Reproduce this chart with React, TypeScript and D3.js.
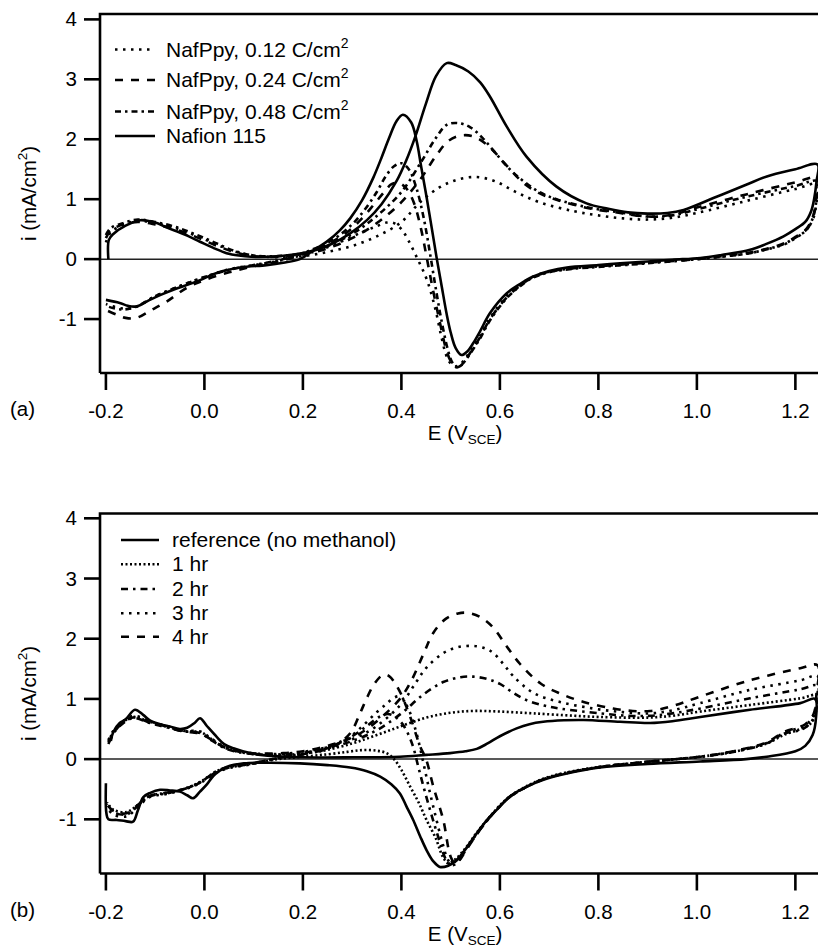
import React from "react";
import * as d3 from "d3";

type P = [number, number];

// ---------- Panel (a) ----------
const nafion115: P[] = [
  [-0.195,0.0],[-0.194,0.32],[-0.185,0.42],[-0.16,0.56],[-0.13,0.65],[-0.10,0.61],[-0.077,0.53],[-0.04,0.41],[-0.009,0.29],[0.02,0.18],[0.045,0.10],[0.07,0.06],[0.095,0.04],[0.13,0.04],[0.16,0.055],[0.2,0.1],[0.228,0.155],[0.26,0.26],[0.296,0.43],[0.33,0.65],[0.36,0.92],[0.39,1.3],[0.41,1.65],[0.428,2.04],[0.45,2.6],[0.47,3.05],[0.492,3.27],[0.51,3.24],[0.536,3.13],[0.56,2.95],[0.58,2.71],[0.614,2.21],[0.654,1.71],[0.715,1.21],[0.776,0.93],[0.82,0.84],[0.86,0.78],[0.9,0.76],[0.94,0.77],[0.973,0.82],[1.04,1.04],[1.1,1.24],[1.142,1.38],[1.2,1.5],[1.245,1.58],
  [1.243,1.3],[1.238,1.0],[1.232,0.8],[1.22,0.62],[1.2,0.5],[1.176,0.38],[1.14,0.25],[1.108,0.155],[1.05,0.07],[1.007,0.02],[0.95,-0.01],[0.9,-0.04],[0.844,-0.07],[0.8,-0.1],[0.736,-0.14],[0.7,-0.2],[0.668,-0.29],[0.64,-0.42],[0.614,-0.57],[0.58,-0.9],[0.56,-1.2],[0.546,-1.4],[0.535,-1.53],[0.522,-1.6],[0.51,-1.48],[0.5,-1.22],[0.492,-0.92],[0.482,-0.46],[0.472,0.0],[0.462,0.5],[0.451,1.04],[0.44,1.55],[0.431,1.97],[0.42,2.28],[0.403,2.41],[0.39,2.3],[0.375,2.02],[0.36,1.7],[0.343,1.36],[0.32,0.98],[0.296,0.68],[0.275,0.48],[0.25,0.3],[0.22,0.14],[0.194,0.0],[0.16,-0.06],[0.126,-0.1],[0.072,-0.14],[0.025,-0.23],[-0.009,-0.35],[-0.035,-0.43],[-0.063,-0.51],[-0.09,-0.6],[-0.111,-0.68],[-0.138,-0.79],[-0.155,-0.78],[-0.172,-0.73],[-0.2,-0.68],
];

const nafPpy012: P[] = [
  [-0.2,0.28],[-0.19,0.45],[-0.165,0.57],[-0.135,0.64],[-0.1,0.6],[-0.06,0.52],[-0.02,0.4],[0.02,0.26],[0.06,0.13],[0.1,0.06],[0.15,0.03],[0.2,0.05],[0.25,0.12],[0.3,0.22],[0.35,0.38],[0.4,0.62],[0.438,0.95],[0.478,1.2],[0.515,1.33],[0.553,1.37],[0.59,1.3],[0.63,1.13],[0.68,0.95],[0.75,0.8],[0.8,0.73],[0.85,0.68],[0.9,0.66],[0.95,0.69],[1.0,0.77],[1.1,0.97],[1.2,1.17],[1.245,1.25],
  [1.243,0.95],[1.235,0.65],[1.22,0.47],[1.2,0.35],[1.176,0.24],[1.14,0.16],[1.108,0.1],[1.05,0.04],[1.0,0.0],[0.9,-0.06],[0.8,-0.12],[0.75,-0.15],[0.7,-0.21],[0.665,-0.3],[0.64,-0.43],[0.614,-0.62],[0.58,-0.98],[0.56,-1.28],[0.546,-1.45],[0.532,-1.63],[0.52,-1.75],[0.508,-1.79],[0.498,-1.72],[0.49,-1.58],[0.48,-1.25],[0.468,-0.8],[0.452,-0.35],[0.433,0.0],[0.415,0.3],[0.4,0.5],[0.385,0.6],[0.37,0.61],[0.35,0.55],[0.32,0.45],[0.28,0.3],[0.24,0.17],[0.2,0.07],[0.15,-0.03],[0.1,-0.1],[0.05,-0.17],[0.0,-0.3],[-0.05,-0.45],[-0.1,-0.62],[-0.14,-0.8],[-0.17,-0.82],[-0.2,-0.75],
];

const nafPpy024: P[] = [
  [-0.2,0.35],[-0.19,0.48],[-0.165,0.58],[-0.135,0.62],[-0.1,0.58],[-0.06,0.5],[-0.02,0.38],[0.02,0.24],[0.06,0.12],[0.1,0.05],[0.15,0.04],[0.2,0.08],[0.25,0.18],[0.3,0.35],[0.35,0.6],[0.4,0.95],[0.44,1.35],[0.47,1.72],[0.495,1.97],[0.519,2.06],[0.545,2.05],[0.575,1.9],[0.615,1.55],[0.648,1.27],[0.68,1.1],[0.715,0.99],[0.78,0.85],[0.844,0.77],[0.9,0.71],[0.95,0.74],[1.0,0.86],[1.1,1.08],[1.2,1.28],[1.245,1.36],
  [1.243,1.05],[1.236,0.72],[1.222,0.5],[1.2,0.37],[1.176,0.26],[1.14,0.17],[1.108,0.11],[1.05,0.05],[1.0,0.0],[0.9,-0.06],[0.8,-0.12],[0.75,-0.15],[0.7,-0.21],[0.665,-0.31],[0.64,-0.45],[0.614,-0.64],[0.58,-1.0],[0.56,-1.3],[0.546,-1.48],[0.532,-1.66],[0.52,-1.78],[0.51,-1.8],[0.5,-1.7],[0.49,-1.48],[0.478,-1.05],[0.465,-0.55],[0.452,0.0],[0.44,0.5],[0.425,0.95],[0.41,1.18],[0.395,1.27],[0.38,1.25],[0.365,1.12],[0.345,0.92],[0.32,0.68],[0.29,0.45],[0.25,0.25],[0.2,0.08],[0.15,-0.04],[0.1,-0.12],[0.05,-0.22],[0.0,-0.35],[-0.036,-0.48],[-0.077,-0.71],[-0.11,-0.86],[-0.138,-0.98],[-0.16,-0.98],[-0.18,-0.92],[-0.2,-0.85],
];

const nafPpy048: P[] = [
  [-0.2,0.4],[-0.19,0.52],[-0.165,0.6],[-0.135,0.66],[-0.1,0.62],[-0.06,0.54],[-0.02,0.42],[0.02,0.28],[0.06,0.14],[0.1,0.06],[0.15,0.05],[0.2,0.1],[0.25,0.22],[0.3,0.42],[0.35,0.72],[0.4,1.12],[0.44,1.62],[0.47,2.02],[0.492,2.24],[0.515,2.27],[0.54,2.2],[0.565,2.02],[0.59,1.78],[0.62,1.5],[0.648,1.3],[0.68,1.12],[0.715,1.0],[0.78,0.86],[0.844,0.78],[0.9,0.71],[0.95,0.73],[1.0,0.83],[1.1,1.04],[1.2,1.22],[1.245,1.3],
  [1.243,1.0],[1.236,0.7],[1.222,0.48],[1.2,0.36],[1.176,0.25],[1.14,0.16],[1.108,0.1],[1.05,0.04],[1.0,0.0],[0.9,-0.07],[0.8,-0.13],[0.75,-0.16],[0.7,-0.22],[0.665,-0.32],[0.64,-0.46],[0.614,-0.65],[0.58,-1.02],[0.56,-1.32],[0.546,-1.5],[0.532,-1.67],[0.52,-1.78],[0.512,-1.8],[0.503,-1.72],[0.494,-1.5],[0.482,-1.05],[0.47,-0.5],[0.458,0.1],[0.445,0.7],[0.43,1.2],[0.415,1.5],[0.4,1.6],[0.385,1.55],[0.368,1.38],[0.35,1.12],[0.325,0.82],[0.3,0.58],[0.26,0.32],[0.2,0.1],[0.15,-0.02],[0.1,-0.1],[0.05,-0.18],[0.0,-0.3],[-0.05,-0.45],[-0.1,-0.62],[-0.14,-0.8],[-0.17,-0.84],[-0.2,-0.78],
];

// ---------- Panel (b) ----------
const reference: P[] = [
  [-0.19,0.3],[-0.185,0.45],[-0.172,0.6],[-0.16,0.66],[-0.141,0.82],[-0.125,0.74],[-0.11,0.64],[-0.09,0.58],[-0.07,0.54],[-0.05,0.5],[-0.035,0.52],[-0.02,0.6],[-0.009,0.68],[0.005,0.55],[0.025,0.37],[0.04,0.25],[0.059,0.18],[0.093,0.1],[0.14,0.05],[0.2,0.03],[0.3,0.03],[0.397,0.04],[0.45,0.07],[0.499,0.1],[0.53,0.13],[0.553,0.17],[0.575,0.26],[0.6,0.38],[0.634,0.51],[0.66,0.58],[0.688,0.62],[0.73,0.645],[0.77,0.65],[0.844,0.62],[0.905,0.6],[0.95,0.63],[1.007,0.7],[1.108,0.82],[1.21,0.93],[1.24,1.0],
  [1.242,0.7],[1.235,0.4],[1.22,0.22],[1.2,0.13],[1.142,0.04],[1.1,0.0],[1.007,-0.04],[0.9,-0.08],[0.803,-0.14],[0.736,-0.24],[0.69,-0.34],[0.654,-0.46],[0.62,-0.62],[0.6,-0.79],[0.575,-1.0],[0.553,-1.23],[0.53,-1.5],[0.512,-1.68],[0.495,-1.77],[0.478,-1.79],[0.465,-1.7],[0.451,-1.51],[0.438,-1.28],[0.424,-1.01],[0.41,-0.78],[0.397,-0.57],[0.38,-0.42],[0.357,-0.29],[0.33,-0.2],[0.296,-0.14],[0.25,-0.1],[0.194,-0.07],[0.13,-0.06],[0.08,-0.07],[0.045,-0.13],[0.03,-0.2],[0.018,-0.28],[0.005,-0.42],[-0.009,-0.54],[-0.023,-0.65],[-0.035,-0.6],[-0.05,-0.54],[-0.07,-0.52],[-0.09,-0.51],[-0.11,-0.56],[-0.124,-0.63],[-0.135,-0.85],[-0.145,-1.04],[-0.16,-1.03],[-0.178,-1.01],[-0.195,-1.0],[-0.199,-0.9],[-0.2,-0.4],
];

const hr1: P[] = [
  [-0.195,0.3],[-0.185,0.45],[-0.172,0.57],[-0.145,0.7],[-0.111,0.62],[-0.077,0.54],[-0.043,0.47],[-0.02,0.46],[-0.005,0.44],[0.011,0.35],[0.045,0.18],[0.093,0.09],[0.16,0.07],[0.228,0.12],[0.3,0.26],[0.35,0.4],[0.397,0.54],[0.451,0.69],[0.5,0.77],[0.546,0.8],[0.6,0.79],[0.668,0.76],[0.75,0.72],[0.803,0.7],[0.9,0.69],[0.95,0.72],[1.007,0.79],[1.108,0.9],[1.21,1.01],[1.245,1.06],
  [1.242,0.8],[1.232,0.6],[1.21,0.5],[1.176,0.4],[1.142,0.26],[1.074,0.12],[1.007,0.04],[0.905,-0.04],[0.803,-0.13],[0.736,-0.22],[0.69,-0.32],[0.654,-0.45],[0.62,-0.62],[0.6,-0.77],[0.575,-1.0],[0.553,-1.22],[0.53,-1.48],[0.51,-1.66],[0.495,-1.73],[0.484,-1.62],[0.47,-1.32],[0.451,-1.01],[0.435,-0.72],[0.418,-0.46],[0.4,-0.18],[0.385,0.0],[0.37,0.1],[0.35,0.14],[0.32,0.15],[0.29,0.12],[0.25,0.08],[0.2,0.04],[0.15,0.0],[0.093,-0.08],[0.05,-0.14],[0.025,-0.2],[-0.009,-0.38],[-0.043,-0.5],[-0.077,-0.56],[-0.111,-0.61],[-0.138,-0.78],[-0.158,-0.88],[-0.185,-0.84],[-0.198,-0.72],
];

const hr2: P[] = [
  [-0.195,0.28],[-0.185,0.42],[-0.172,0.55],[-0.145,0.68],[-0.111,0.6],[-0.077,0.53],[-0.043,0.46],[-0.02,0.45],[-0.005,0.42],[0.011,0.33],[0.045,0.17],[0.093,0.09],[0.16,0.08],[0.228,0.14],[0.3,0.3],[0.35,0.48],[0.4,0.76],[0.444,1.07],[0.485,1.28],[0.52,1.36],[0.546,1.37],[0.575,1.33],[0.6,1.25],[0.627,1.1],[0.654,0.98],[0.69,0.89],[0.722,0.84],[0.803,0.76],[0.86,0.72],[0.905,0.72],[0.95,0.76],[1.007,0.84],[1.108,1.01],[1.21,1.16],[1.245,1.22],
  [1.243,0.9],[1.235,0.65],[1.215,0.5],[1.176,0.42],[1.142,0.26],[1.074,0.12],[1.007,0.04],[0.905,-0.04],[0.803,-0.13],[0.736,-0.23],[0.69,-0.33],[0.654,-0.46],[0.62,-0.63],[0.6,-0.78],[0.575,-1.01],[0.553,-1.24],[0.53,-1.5],[0.512,-1.68],[0.5,-1.75],[0.49,-1.66],[0.477,-1.35],[0.462,-0.95],[0.448,-0.55],[0.435,-0.15],[0.422,0.25],[0.405,0.55],[0.388,0.7],[0.372,0.75],[0.355,0.7],[0.33,0.55],[0.3,0.38],[0.26,0.22],[0.2,0.08],[0.15,0.02],[0.093,-0.08],[0.05,-0.13],[0.025,-0.2],[-0.009,-0.39],[-0.043,-0.5],[-0.077,-0.57],[-0.111,-0.62],[-0.138,-0.8],[-0.158,-0.92],[-0.185,-0.88],[-0.198,-0.75],
];

const hr3: P[] = [
  [-0.195,0.32],[-0.185,0.47],[-0.172,0.58],[-0.145,0.72],[-0.111,0.63],[-0.077,0.55],[-0.043,0.47],[-0.02,0.47],[-0.005,0.45],[0.011,0.36],[0.045,0.19],[0.093,0.1],[0.16,0.09],[0.228,0.16],[0.3,0.33],[0.35,0.55],[0.4,0.92],[0.43,1.28],[0.451,1.52],[0.485,1.76],[0.515,1.86],[0.546,1.88],[0.57,1.84],[0.587,1.76],[0.607,1.58],[0.627,1.38],[0.668,1.1],[0.722,0.95],[0.79,0.84],[0.85,0.78],[0.905,0.76],[0.95,0.81],[1.007,0.93],[1.108,1.15],[1.21,1.31],[1.245,1.38],
  [1.243,1.0],[1.236,0.7],[1.218,0.56],[1.176,0.43],[1.142,0.27],[1.074,0.13],[1.007,0.04],[0.905,-0.04],[0.803,-0.13],[0.736,-0.23],[0.69,-0.33],[0.654,-0.46],[0.62,-0.63],[0.6,-0.78],[0.575,-1.01],[0.553,-1.25],[0.53,-1.52],[0.515,-1.7],[0.505,-1.76],[0.495,-1.68],[0.482,-1.35],[0.468,-0.9],[0.455,-0.45],[0.443,0.0],[0.43,0.45],[0.415,0.82],[0.398,1.04],[0.385,1.02],[0.37,0.92],[0.35,0.78],[0.325,0.58],[0.3,0.4],[0.26,0.23],[0.2,0.09],[0.15,0.02],[0.093,-0.09],[0.05,-0.15],[0.025,-0.22],[-0.009,-0.4],[-0.043,-0.51],[-0.077,-0.58],[-0.111,-0.63],[-0.138,-0.82],[-0.158,-0.95],[-0.185,-0.92],[-0.198,-0.8],
];

const hr4: P[] = [
  [-0.195,0.25],[-0.185,0.42],[-0.172,0.56],[-0.145,0.69],[-0.111,0.61],[-0.077,0.54],[-0.043,0.46],[-0.02,0.44],[-0.005,0.42],[0.011,0.34],[0.045,0.18],[0.093,0.1],[0.16,0.1],[0.2,0.13],[0.25,0.22],[0.3,0.36],[0.33,0.5],[0.363,0.72],[0.397,1.0],[0.42,1.3],[0.445,1.75],[0.465,2.1],[0.49,2.33],[0.515,2.42],[0.535,2.43],[0.56,2.36],[0.587,2.18],[0.614,1.87],[0.641,1.58],[0.682,1.26],[0.722,1.09],[0.77,0.95],[0.83,0.84],[0.87,0.8],[0.905,0.8],[0.95,0.88],[1.007,1.04],[1.108,1.31],[1.21,1.51],[1.245,1.56],
  [1.243,1.1],[1.237,0.75],[1.22,0.58],[1.176,0.45],[1.142,0.28],[1.074,0.13],[1.007,0.04],[0.905,-0.04],[0.803,-0.13],[0.736,-0.23],[0.69,-0.33],[0.654,-0.46],[0.62,-0.63],[0.6,-0.78],[0.575,-1.01],[0.553,-1.25],[0.53,-1.53],[0.518,-1.68],[0.51,-1.74],[0.5,-1.62],[0.485,-1.01],[0.465,-0.46],[0.45,0.0],[0.438,0.21],[0.418,0.7],[0.395,1.15],[0.375,1.38],[0.363,1.4],[0.345,1.25],[0.329,1.0],[0.316,0.76],[0.296,0.43],[0.262,0.21],[0.2,0.08],[0.15,0.02],[0.093,-0.08],[0.05,-0.14],[0.025,-0.21],[-0.009,-0.39],[-0.043,-0.5],[-0.077,-0.56],[-0.111,-0.61],[-0.138,-0.78],[-0.158,-0.9],[-0.185,-0.86],[-0.2,-0.73],
];

const xTicks = [-0.2, 0, 0.2, 0.4, 0.6, 0.8, 1.0, 1.2];
const xTickLabels = ["-0.2", "0.0", "0.2", "0.4", "0.6", "0.8", "1.0", "1.2"];
const yTicks = [-1, 0, 1, 2, 3, 4];
const yTickLabels = ["-1", "0", "1", "2", "3", "4"];

const legendA = ["NafPpy, 0.12 C/cm", "NafPpy, 0.24 C/cm", "NafPpy, 0.48 C/cm", "Nafion 115"];
const legendB = ["reference (no methanol)", "1 hr", "2 hr", "3 hr", "4 hr"];

const FONT = "'Liberation Sans', Arial, sans-serif";
const DOT = "2.5 5.5";
const DASH = "8 8";
const DASHDOT = "6 4 2.5 4";
const FINEDOT = "2 2.5";

const seriesA = [
  { data: nafPpy012, dash: DOT, label: legendA[0], sup: true, ly: 49.5 },
  { data: nafPpy024, dash: DASH, label: legendA[1], sup: true, ly: 80 },
  { data: nafPpy048, dash: DASHDOT, label: legendA[2], sup: true, ly: 111.5 },
  { data: nafion115, dash: "none", label: legendA[3], sup: false, ly: 136 },
];
const seriesB = [
  { data: reference, dash: "none", label: legendB[0], sup: false, ly: 540 },
  { data: hr1, dash: FINEDOT, label: legendB[1], sup: false, ly: 564.3 },
  { data: hr2, dash: "7 5 2.5 5", label: legendB[2], sup: false, ly: 589 },
  { data: hr3, dash: DOT, label: legendB[3], sup: false, ly: 613.3 },
  { data: hr4, dash: DASH, label: legendB[4], sup: false, ly: 636.7 },
];

const x = d3.scaleLinear().domain([-0.212, 1.25]).range([100, 820]);

function Panel(props: {
  top: number; bottom: number; yMax: number; series: typeof seriesA;
  tag: string; id: string; legX1: number; legX2: number; textX: number;
}) {
  const { top, bottom, yMax, series, tag, id, legX1, legX2, textX } = props;
  const y = d3.scaleLinear().domain([-1.9, yMax]).range([bottom, top]);
  const line = d3.line<P>().x(d => x(d[0])).y(d => y(d[1])).curve(d3.curveCatmullRom.alpha(0.5));
  const L = 100, R = 820;
  return (
    <g>
      <defs>
        <clipPath id={id}><rect x={L} y={top} width={R - L} height={bottom - top} /></clipPath>
      </defs>
      <line x1={L} x2={R} y1={y(0)} y2={y(0)} stroke="#222" strokeWidth={1.5} />
      <g clipPath={`url(#${id})`}>
        {series.map((s, k) => (
          <path key={k} d={line(s.data) || ""} fill="none" stroke="#000" strokeWidth={2.6}
            strokeDasharray={s.dash} strokeLinejoin="round" />
        ))}
      </g>
      <path d={`M${L},${bottom}L${L},${top}L${R},${top}M${L},${bottom}L${R},${bottom}`} fill="none" stroke="#000" strokeWidth={2.6} />
      {xTicks.map((t, k) => (
        <g key={k}>
          <line x1={x(t)} x2={x(t)} y1={bottom} y2={bottom + 17} stroke="#000" strokeWidth={2.6} />
          <text x={x(t)} y={bottom + 45} textAnchor="middle" fontSize={20.5} fontFamily={FONT}>{xTickLabels[k]}</text>
        </g>
      ))}
      {yTicks.map((t, k) => (
        <g key={k}>
          <line x1={84} x2={L} y1={y(t)} y2={y(t)} stroke="#000" strokeWidth={2.6} />
          <text x={77} y={y(t) + 7} textAnchor="end" fontSize={20.5} fontFamily={FONT}>{yTickLabels[k]}</text>
        </g>
      ))}
      <text transform={`translate(36,${(top + bottom) / 2}) rotate(-90)`} textAnchor="middle" fontSize={20.5} fontFamily={FONT}>
        i (mA/cm<tspan dy={-9} fontSize={13.5}>2</tspan><tspan dy={9}>)</tspan>
      </text>
      <text x={465} y={bottom + 67} textAnchor="middle" fontSize={20.5} fontFamily={FONT}>
        E (V<tspan dy={4} fontSize={13.5}>SCE</tspan><tspan dy={-4}>)</tspan>
      </text>
      <text x={10} y={bottom + 43} fontSize={20.5} fontFamily={FONT}>{tag}</text>
      {series.map((s, k) => (
        <g key={k}>
          <line x1={legX1} x2={legX2} y1={s.ly} y2={s.ly} stroke="#000" strokeWidth={2.6} strokeDasharray={s.dash} />
          <text x={textX} y={s.ly + 7} fontSize={21} fontFamily={FONT}>
            {s.label}{s.sup ? <tspan dy={-9} fontSize={14}>2</tspan> : null}
          </text>
        </g>
      ))}
    </g>
  );
}

export default function App() {
  return (
    <svg width={818} height={947} style={{ position: "absolute", left: 0, top: 0, background: "#fff" }}>
      <rect width={818} height={947} fill="#fff" />
      <Panel top={14} bottom={373} yMax={4.09} series={seriesA} tag="(a)" id="clipA" legX1={115} legX2={155} textX={166} />
      <Panel top={513.5} bottom={873.5} yMax={4.08} series={seriesB} tag="(b)" id="clipB" legX1={121} legX2={159} textX={172} />
    </svg>
  );
}
